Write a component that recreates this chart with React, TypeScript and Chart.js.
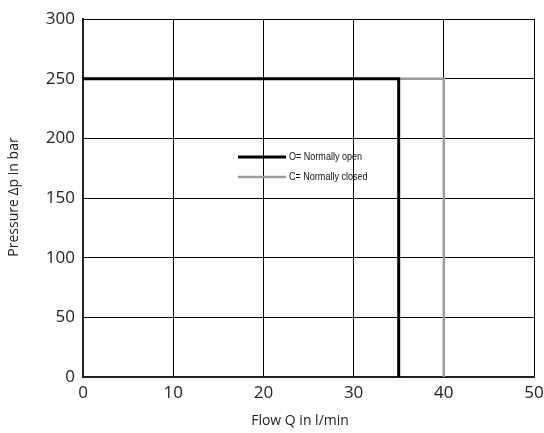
import React, { useEffect, useRef } from "react";
import { Chart, registerables } from "chart.js";

Chart.register(...registerables);

const xTicks = [0, 10, 20, 30, 40, 50];
const yTicks = [0, 50, 100, 150, 200, 250, 300];
const openFlow = [0, 35, 35];
const openPressure = [250, 250, 0];
const closedFlow = [0, 40, 40];
const closedPressure = [250, 250, 0];
const seriesLabels = ["O= Normally open", "C= Normally closed"];
const seriesColors = ["#000000", "#9c9c9c"];
const seriesWidths = [3, 2.5];
const xTitle = "Flow Q in l/min";
const yTitle = "Pressure Δp in bar";

const legendPlugin = {
  id: "insideLegend",
  afterDraw(chart: any) {
    const { ctx, chartArea } = chart;
    const x0 = chartArea.left + 155;
    const x1 = chartArea.left + 203;
    const tx = chartArea.left + 206;
    const ys = [chartArea.top + 138, chartArea.top + 158];
    ctx.save();
    seriesLabels.forEach((lab, i) => {
      ctx.strokeStyle = seriesColors[i];
      ctx.lineWidth = seriesWidths[i];
      ctx.beginPath();
      ctx.moveTo(x0, ys[i]);
      ctx.lineTo(x1, ys[i]);
      ctx.stroke();
      ctx.save();
      ctx.translate(tx, ys[i]);
      ctx.scale(0.86, 1);
      ctx.font = "10.5px 'Liberation Sans', Arial, sans-serif";
      ctx.textBaseline = "middle";
      ctx.textAlign = "left";
      ctx.fillStyle = "#111";
      ctx.fillText(lab, 0, 0);
      ctx.restore();
    });
    ctx.restore();
  },
};

const titlesPlugin = {
  id: "axisTitles",
  afterDraw(chart: any) {
    const { ctx, chartArea } = chart;
    ctx.save();
    ctx.font = "14px 'Open Sans', sans-serif";
    ctx.fillStyle = "#222";
    ctx.textAlign = "center";
    ctx.textBaseline = "middle";
    ctx.fillText(xTitle, chartArea.left + 217, chart.height - 12);
    ctx.translate(14, chartArea.top + 178);
    ctx.rotate(-Math.PI / 2);
    ctx.fillText(yTitle, 0, 0);
    ctx.restore();
  },
};

export default function App() {
  const ref = useRef<HTMLCanvasElement | null>(null);
  useEffect(() => {
    if (!ref.current) return;
    const toPts = (xs: number[], ys: number[]) => xs.map((x, i) => ({ x, y: ys[i] }));
    const chart = new Chart(ref.current, {
      type: "scatter",
      data: {
        datasets: [
          {
            label: seriesLabels[1],
            data: toPts(closedFlow, closedPressure),
            showLine: true,
            borderColor: seriesColors[1],
            borderWidth: seriesWidths[1],
            pointRadius: 0,
            tension: 0,
            order: 2,
          },
          {
            label: seriesLabels[0],
            data: toPts(openFlow, openPressure),
            showLine: true,
            borderColor: seriesColors[0],
            borderWidth: seriesWidths[0],
            pointRadius: 0,
            tension: 0,
            order: 1,
          },
        ],
      },
      options: {
        animation: false,
        responsive: false,
        maintainAspectRatio: false,
        devicePixelRatio: 1,
        layout: { padding: { left: 0, top: 19, right: 10, bottom: 0 } },
        plugins: { legend: { display: false }, tooltip: { enabled: false } },
        scales: {
          x: {
            type: "linear",
            z: 1,
            min: xTicks[0],
            max: xTicks[xTicks.length - 1],
            afterBuildTicks: (s: any) => { s.ticks = xTicks.map((v) => ({ value: v })); },
            afterFit: (s: any) => { s.height = 56; s.paddingLeft = 0; s.paddingRight = 0; },
            grid: { color: "#000", lineWidth: 1, drawTicks: false },
            border: { color: "#222", width: 2 },
            ticks: {
              color: "#222",
              padding: 6,
              maxRotation: 0,
              font: { family: "'Open Sans', sans-serif", size: 17 },
            },
            title: { display: false },
          },
          y: {
            type: "linear",
            z: 1,
            min: yTicks[0],
            max: yTicks[yTicks.length - 1],
            afterBuildTicks: (s: any) => { s.ticks = yTicks.map((v) => ({ value: v })); },
            afterFit: (s: any) => { s.width = 83; s.paddingTop = 0; s.paddingBottom = 0; },
            grid: { color: "#000", lineWidth: 1, drawTicks: false },
            border: { color: "#222", width: 2 },
            ticks: {
              color: "#222",
              padding: 8,
              font: { family: "'Open Sans', sans-serif", size: 17 },
            },
            title: { display: false },
          },
        },
      },
      plugins: [legendPlugin, titlesPlugin],
    } as any);
    return () => chart.destroy();
  }, []);
  return (
    <div style={{ position: "fixed", left: 0, top: 0, width: 544, height: 433, background: "#fff" }}>
      <canvas ref={ref} width={544} height={433} style={{ width: 544, height: 433 }} />
    </div>
  );
}
